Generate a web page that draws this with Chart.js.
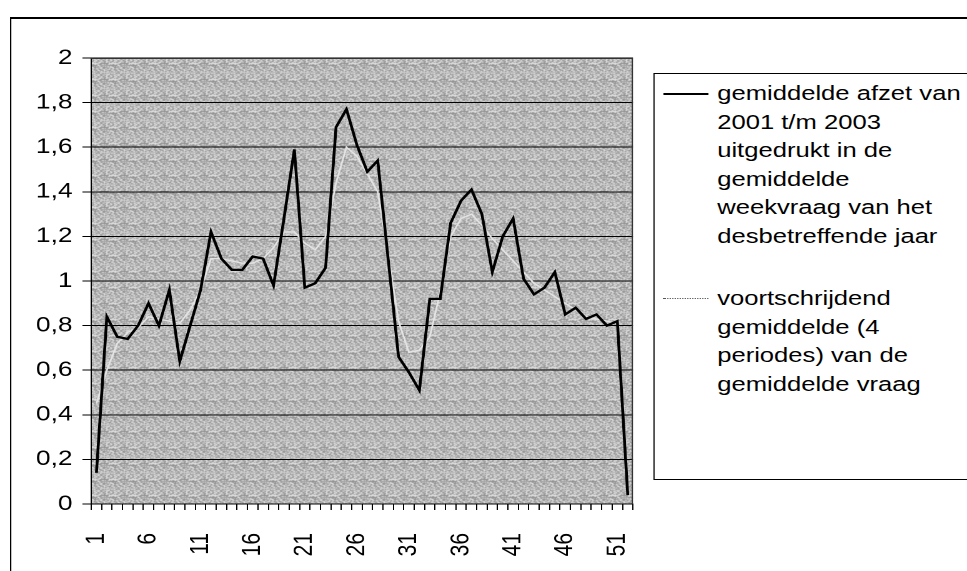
<!DOCTYPE html>
<html><head><meta charset="utf-8">
<script src="https://cdn.jsdelivr.net/npm/chart.js@4"></script>
<style>
html,body{margin:0;padding:0;background:#fff;overflow:hidden;width:967px;height:571px;}
#stage{position:absolute;left:0;top:0;width:774px;height:571px;transform:scaleX(1.2494);transform-origin:0 0;}
#frame{position:absolute;left:8px;top:17px;width:900px;height:700px;border-top:2px solid #000;border-left:1.6px solid #000;}
#c{position:absolute;left:0;top:0;}
#legend{position:absolute;left:523px;top:73px;width:400px;height:405px;border:1.2px solid #000;font-family:'Liberation Sans',Arial,sans-serif;font-size:20.5px;color:#000;background:#fff;}
.item{position:absolute;left:7px;}
.sample{position:absolute;left:0;width:36px;}
.txt{position:absolute;left:43px;white-space:pre;line-height:28.5px;top:0;}
</style></head>
<body>
<div id="stage">
  <div id="frame"></div>
  <canvas id="c" width="774" height="571"></canvas>
  <div id="legend"></div>
</div>
<script>
const categories = ['1','2','3','4','5','6','7','8','9','10','11','12','13','14','15','16','17','18','19','20','21','22','23','24','25','26','27','28','29','30','31','32','33','34','35','36','37','38','39','40','41','42','43','44','45','46','47','48','49','50','51','52'];
const shownXLabels = ['1','6','11','16','21','26','31','36','41','46','51'];
const yTickLabels = ['0','0,2','0,4','0,6','0,8','1','1,2','1,4','1,6','1,8','2'];
const afzet = [0.14,0.84,0.75,0.74,0.80,0.90,0.80,0.96,0.64,0.80,0.96,1.22,1.10,1.05,1.05,1.11,1.10,0.98,1.28,1.59,0.97,0.99,1.06,1.69,1.77,1.61,1.49,1.54,1.10,0.66,0.59,0.51,0.92,0.92,1.26,1.36,1.41,1.30,1.04,1.20,1.28,1.01,0.94,0.97,1.04,0.85,0.88,0.83,0.85,0.80,0.82,0.04];
const voortschrijdend = [0.45,0.60,0.72,0.77,0.79,0.84,0.83,0.82,0.81,0.87,0.96,1.10,1.10,1.09,1.08,1.08,1.10,1.15,1.22,1.22,1.17,1.14,1.20,1.44,1.60,1.56,1.48,1.40,1.12,0.82,0.68,0.69,0.75,0.95,1.20,1.28,1.30,1.25,1.19,1.14,1.09,1.04,0.99,0.96,0.93,0.90,0.87,0.84,0.83,0.82,0.81,null];
const seriesLabels = [
  'gemiddelde afzet van\n2001 t/m 2003\nuitgedrukt in de\ngemiddelde\nweekvraag van het\ndesbetreffende jaar',
  'voortschrijdend\ngemiddelde (4\nperiodes) van de\ngemiddelde vraag'
];
const seriesColors = ['#000000','#e4e4e4'];
const seriesWidths = [2.3,1.4];
const legendSampleStyles = ['2.3px solid #000','1px dotted #555'];

const FONT = {family:"'Liberation Sans', Arial, sans-serif", size:21};

// textured background pattern for the plot area
function makePattern(ctx){
  const p = document.createElement('canvas');
  p.width = 16; p.height = 16;
  const pc = p.getContext('2d');
  const levels = [146,166,186,204,226];
  for(let y=0;y<16;y++){for(let x=0;x<16;x++){
    const k = (x*37 + y*101 + ((x*y)%7)*13 + ((x+y)%3)*5) % 5;
    const g = levels[k];
    pc.fillStyle = 'rgb('+g+','+g+','+g+')';
    pc.fillRect(x,y,1,1);
  }}
  return ctx.createPattern(p,'repeat');
}

const bgPlugin = {
  id:'bg',
  beforeDraw(chart){
    const {ctx, chartArea:a} = chart;
    ctx.save();
    ctx.fillStyle = makePattern(ctx);
    ctx.fillRect(a.left, a.top, a.right-a.left, a.bottom-a.top);
    ctx.restore();
  },
  afterDatasetsDraw(chart){
    const {ctx, chartArea:a} = chart;
    ctx.save();
    ctx.strokeStyle = '#333';
    ctx.lineWidth = 1;
    ctx.beginPath();
    ctx.moveTo(a.left, a.top+0.5); ctx.lineTo(a.right-0.5, a.top+0.5); ctx.lineTo(a.right-0.5, a.bottom);
    ctx.stroke();
    ctx.restore();
  }
};

const chart = new Chart(document.getElementById('c'), {
  type:'line',
  data:{
    labels:categories,
    datasets:[
      {label:seriesLabels[0], data:afzet, borderColor:seriesColors[0], borderWidth:seriesWidths[0], pointRadius:0, tension:0, fill:false},
      {label:seriesLabels[1], data:voortschrijdend, borderColor:seriesColors[1], borderWidth:seriesWidths[1], pointRadius:0, tension:0, fill:false}
    ]
  },
  options:{
    responsive:false, animation:false, devicePixelRatio:2,
    layout:{padding:{left:0, top:58, right:267.4, bottom:0}},
    plugins:{legend:{display:false}, tooltip:{enabled:false}},
    scales:{
      x:{
        offset:true,
        grid:{offset:true, drawOnChartArea:false, drawTicks:true, tickLength:6, tickColor:'#000', color:'#000', lineWidth:1},
        border:{color:'#000', width:1},
        ticks:{autoSkip:false, minRotation:90, maxRotation:90, padding:23, color:'#000', font:FONT,
          callback:(v,i)=> shownXLabels.includes(categories[i]) ? categories[i] : ''},
        afterFit:s=>{s.height=67;}
      },
      y:{
        min:0, max:2,
        ticks:{stepSize:0.2, padding:8, color:'#000', font:FONT, callback:(v,i)=> yTickLabels[i]},
        grid:{color:'#000', lineWidth:1, tickLength:7, tickColor:'#000'},
        border:{color:'#000', width:1},
        afterFit:s=>{s.width=73;}
      }
    }
  },
  plugins:[bgPlugin]
});

// HTML legend built from the datasets
const legend = document.getElementById('legend');
const tops = [5, 210];
chart.data.datasets.forEach((ds,i)=>{
  const item = document.createElement('div');
  item.className = 'item';
  item.style.top = tops[i]+'px';
  const s = document.createElement('div');
  s.className = 'sample';
  s.style.top = '13.5px';
  s.style.borderTop = legendSampleStyles[i];
  const t = document.createElement('div');
  t.className = 'txt';
  t.textContent = ds.label;
  item.appendChild(s); item.appendChild(t);
  legend.appendChild(item);
});
</script>
</body></html>
